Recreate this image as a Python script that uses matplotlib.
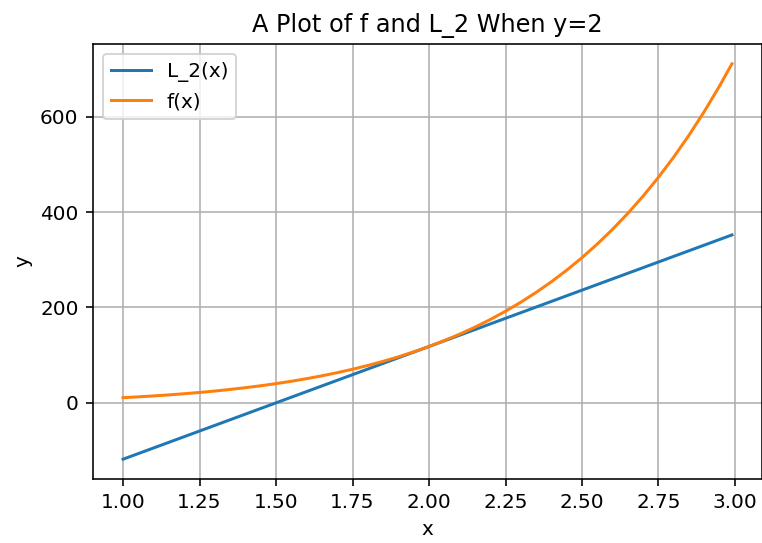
import matplotlib
matplotlib.use("Agg")
import matplotlib.pyplot as plt

# f(x)
x_f = [1.00, 1.05, 1.10, 1.15, 1.20, 1.25, 1.30, 1.35, 1.40, 1.45, 1.50,
       1.55, 1.60, 1.65, 1.70, 1.75, 1.80, 1.85, 1.90, 1.95, 2.00,
       2.05, 2.10, 2.15, 2.20, 2.25, 2.30, 2.35, 2.40, 2.45, 2.50,
       2.55, 2.60, 2.65, 2.70, 2.75, 2.80, 2.85, 2.90, 2.95, 2.99]
y_f = [10.87, 12.60, 14.54, 16.71, 19.12, 21.81, 24.80, 28.12, 31.79, 35.85, 40.34,
       45.28, 50.72, 56.70, 63.28, 70.49, 78.40, 87.07, 96.54, 106.91, 118.22,
       130.58, 144.05, 158.73, 174.72, 192.13, 211.05, 231.63, 253.97, 278.24, 304.56,
       333.11, 364.06, 397.59, 433.89, 473.19, 515.70, 561.68, 611.38, 665.08, 711.12]

# L_2(x) tangent line
x_L = [1.00, 1.50, 2.00, 2.50, 2.99]
y_L = [-118.2, 0.0, 118.2, 236.4, 352.2]

title = "A Plot of f and L_2 When y=2"

fig = plt.figure(figsize=(762/144, 543/144), dpi=144)
ax = fig.add_axes([0.1215, 0.1179, 0.879, 0.801])
ax.plot(x_L, y_L, label="L_2(x)")
ax.plot(x_f, y_f, label="f(x)")
ax.set_title(title)
ax.set_xlabel("x")
ax.set_ylabel("y")
ax.set_xticks([1.00, 1.25, 1.50, 1.75, 2.00, 2.25, 2.50, 2.75, 3.00])
ax.grid(True)
ax.legend(loc="upper left")
fig.savefig("out.png", dpi=144)
